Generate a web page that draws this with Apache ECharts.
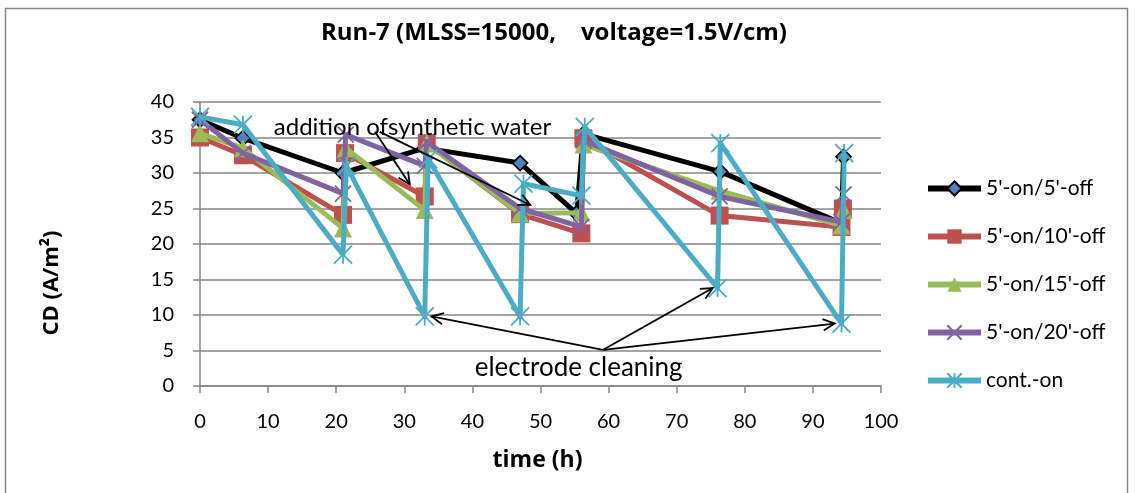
<!DOCTYPE html>
<html>
<head>
<meta charset="utf-8">
<script src="https://cdn.jsdelivr.net/npm/echarts@6/dist/echarts.min.js"></script>
<style>
  html, body { margin: 0; padding: 0; background: #fff; }
  #chart { width: 1135px; height: 493px; }
</style>
</head>
<body>
<div id="chart"></div>
<script>
// Current density (A/m²) over time for each on/off operating mode
const seriesNames = ["5'-on/5'-off", "5'-on/10'-off", "5'-on/15'-off", "5'-on/20'-off", "cont.-on"];

const time5off  = [0, 6.3, 21, 33, 47, 55.3, 56.3, 76.4, 94.2, 94.5];
const cd5off    = [37.5, 34.9, 30, 33.5, 31.4, 24.3, 35.5, 30.2, 22.9, 32.3];

const time10off = [0, 6.3, 21, 21.3, 33, 33.3, 47, 56, 56.3, 76.3, 94.2, 94.4];
const cd10off   = [35, 32.5, 24.1, 32.8, 26.7, 34.2, 24.2, 21.5, 34.9, 24, 22.4, 25];

const time15off = [0, 6.3, 21, 21.4, 33, 33.3, 47, 56, 56.3, 76.3, 94.2, 94.5];
const cd15off   = [35.6, 33.5, 22.2, 33.5, 24.8, 34.2, 24.3, 24.4, 34, 27.5, 22.6, 24.8];

const time20off = [0, 6.3, 21, 21.4, 33, 33.3, 47, 56, 56.3, 76.3, 94.2, 94.5];
const cd20off   = [37.5, 32.8, 27.1, 35.4, 31, 34.4, 25, 22.4, 34.6, 26.7, 23.1, 27];

const timeCont  = [0, 6.3, 21, 21.5, 33, 33.5, 47, 47.5, 56, 56.5, 76, 76.4, 94.2, 94.6];
const cdCont    = [37.9, 36.8, 18.5, 31, 9.8, 32, 9.8, 28.5, 26.8, 36.5, 13.8, 34.2, 8.8, 32.8];

// Axis ranges
const xRange = [0, 100, 10];
const yRange = [0, 40, 5];

// Annotation text and arrow anchors, in data units (time, CD)
const additionText = 'addition ofsynthetic water';
const additionAt = [31.2, 36.4];
const additionArrows = [[[25.7, 35.8], [30.8, 28.4]], [[26.4, 35.8], [48.5, 25.5]]];
const cleaningText = 'electrode cleaning';
const cleaningAt = [55.6, 2.6];
const cleaningArrows = [[[59.2, 5.1], [34.0, 9.8]], [[59.2, 5.1], [75.3, 13.8]], [[59.2, 5.1], [93.2, 8.8]]];

const FONT = 'Lato, "Liberation Sans", sans-serif';
const BOLD_FONT = '"Open Sans", Lato, sans-serif';
const GRID_GREY = '#868686';

function pairs(t, v) { return t.map((x, i) => [x, v[i]]); }

const styles = [
  { symbol: 'diamond', size: 15, line: '#000000', fill: '#4F81BD', border: '#000000', bw: 1.6 },
  { symbol: 'rect', size: 18, line: '#C0504D', fill: '#C0504D', border: '#C0504D', bw: 0 },
  { symbol: 'triangle', size: 18, line: '#9BBB59', fill: '#9BBB59', border: '#9BBB59', bw: 0 },
  { symbol: 'path://M0,0L10,10M10,0L0,10', size: 16, line: '#8064A2', fill: '#8064A2', border: '#8064A2', bw: 1.8 },
  { symbol: 'path://M5,0L5,10M0,0L10,10M10,0L0,10', size: 18, line: '#4BACC6', fill: '#4BACC6', border: '#4BACC6', bw: 1.8 }
];
const dataSets = [
  pairs(time5off, cd5off),
  pairs(time10off, cd10off),
  pairs(time15off, cd15off),
  pairs(time20off, cd20off),
  pairs(timeCont, cdCont)
];

const chart = echarts.init(document.getElementById('chart'), null, { renderer: 'canvas' });

chart.setOption({
  animation: false,
  backgroundColor: '#ffffff',
  title: {
    text: 'Run-7 (MLSS=15000,    voltage=1.5V/cm)',
    left: 549, top: 16, textAlign: 'center',
    textStyle: { fontFamily: BOLD_FONT, fontSize: 24, fontWeight: 'bold', color: '#000' }
  },
  grid: { left: 200, right: 254, top: 102, bottom: 107, containLabel: false },
  legend: {
    orient: 'vertical', left: 920, top: 173,
    itemWidth: 53, itemHeight: 18, itemGap: 27,
    lineStyle: { width: 6 },
    textStyle: { fontFamily: FONT, fontSize: 21, color: '#000', lineHeight: 21 },
    data: seriesNames
  },
  xAxis: {
    type: 'value', min: xRange[0], max: xRange[1], interval: xRange[2],
    name: 'time (h)', nameLocation: 'middle', nameGap: 63,
    nameTextStyle: { fontFamily: BOLD_FONT, fontSize: 23, fontWeight: 'bold', color: '#000', padding: [0, 6, 0, 0] },
    axisLine: { show: true, lineStyle: { color: GRID_GREY, width: 1.5 } },
    axisTick: { show: true, length: 7, lineStyle: { color: GRID_GREY, width: 1.5 } },
    axisLabel: { margin: 26, fontFamily: FONT, fontSize: 20, color: '#000' },
    splitLine: { show: false }
  },
  yAxis: {
    type: 'value', min: yRange[0], max: yRange[1], interval: yRange[2],
    axisLine: { show: true, lineStyle: { color: GRID_GREY, width: 1.5 } },
    axisTick: { show: true, length: 7, lineStyle: { color: GRID_GREY, width: 1.5 } },
    axisLabel: { margin: 26, fontFamily: FONT, fontSize: 20, color: '#000' },
    splitLine: { show: true, lineStyle: { color: GRID_GREY, width: 1.5 } }
  },
  series: seriesNames.map((name, i) => ({
    name,
    type: 'line',
    data: dataSets[i],
    symbol: styles[i].symbol,
    symbolSize: styles[i].size,
    showAllSymbol: true,
    lineStyle: { color: styles[i].line, width: 5, join: 'round' },
    itemStyle: { color: styles[i].fill, borderColor: styles[i].border, borderWidth: styles[i].bw },
    emphasis: { disabled: true },
    z: 2 + i
  }))
});

// Annotations: labels with open arrowheads, placed from data coordinates
function px(p) { return chart.convertToPixel({ gridIndex: 0 }, p); }

function arrowElements(from, to) {
  const a = px(from), b = px(to);
  const ang = Math.atan2(b[1] - a[1], b[0] - a[0]);
  const len = 13, spread = 0.45;
  const w1 = [b[0] - len * Math.cos(ang - spread), b[1] - len * Math.sin(ang - spread)];
  const w2 = [b[0] - len * Math.cos(ang + spread), b[1] - len * Math.sin(ang + spread)];
  return [
    { type: 'line', z: 100, shape: { x1: a[0], y1: a[1], x2: b[0], y2: b[1] },
      style: { stroke: '#000', lineWidth: 1.8 } },
    { type: 'polyline', z: 100, shape: { points: [w1, b, w2] },
      style: { stroke: '#000', lineWidth: 1.8, fill: null } }
  ];
}

function labelElement(text, at, size) {
  const p = px(at);
  return { type: 'text', z: 101, x: p[0], y: p[1],
    style: { text, fill: '#000', font: size + 'px ' + FONT, align: 'center', verticalAlign: 'middle' } };
}

// Vertical axis title
const yTitle = { type: 'text', z: 10, x: 52, y: 283, rotation: Math.PI / 2,
  style: { text: 'CD (A/m²)', fill: '#000', font: 'bold 22px ' + BOLD_FONT, align: 'center', verticalAlign: 'middle' } };

const graphics = [
  { type: 'rect', z: 0, silent: true, shape: { x: 5.5, y: 8.5, width: 1122, height: 500 },
    style: { stroke: GRID_GREY, lineWidth: 1.5, fill: null } },
  yTitle
];
additionArrows.forEach(([f, t]) => graphics.push(...arrowElements(f, t)));
cleaningArrows.forEach(([f, t]) => graphics.push(...arrowElements(f, t)));
graphics.push(labelElement(additionText, additionAt, 24));
graphics.push(labelElement(cleaningText, cleaningAt, 26));

chart.setOption({ graphic: graphics });
</script>
</body>
</html>
